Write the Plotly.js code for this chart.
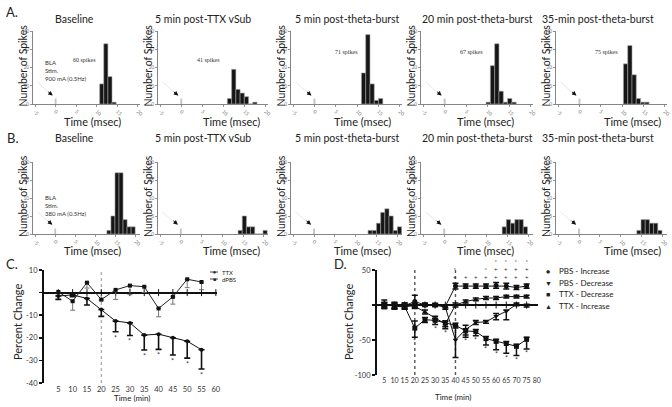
<!DOCTYPE html>
<html><head><meta charset="utf-8">
<script src="https://cdn.plot.ly/plotly-3.0.1.min.js"></script>
<style>html,body{margin:0;padding:0;background:#fff}#chart{width:672px;height:407px}</style>
</head><body><div id="chart"></div>
<script>
// ---------------- DATA ----------------
const titlesRow = ["Baseline","5 min post-TTX vSub","5 min post-theta-burst","20 min post-theta-burst","35-min post-theta-burst"];
// Row A histograms (bin centre in ms, spike counts)
const timesA1 = [11.2,12.2,13.2,14.2];                  const countsA1 = [11,33,15,1];
const timesA2 = [11.4,12.4,13.4,14.4,15.4,16.4,17.4];   const countsA2 = [3,19,8,6,4,0,1];
const timesA3 = [11.5,12.5,13.5,14.5,15.5];             const countsA3 = [17,38,11,2,3];
const timesA4 = [10.1,11.1,12.1,13.1,14.1,15.1,16.1];   const countsA4 = [1,21,33,7,1,3,1];
const timesA5 = [10.8,11.8,12.8,13.8,14.8,15.8];        const countsA5 = [22,32,16,3,1,1];
// Row B histograms
const timesB1 = [13.3,14.3,15.3,16.3,17.3,18.3,19.3];   const countsB1 = [1,5,17,17,4,2,2];
const timesB2 = [14.3,15.3,16.3,17.3,18.3,19.3,20.3];   const countsB2 = [1,5,2,2,0,0,1];
const timesB3 = [13.4,14.4,15.4,16.4,17.4,18.4,19.4,20.4]; const countsB3 = [1,1,3,6,7,5,1,2];
const timesB4 = [14.2,15.2,16.2,17.2,18.2,19.2];        const countsB4 = [2,4,3,4,4,2];
const timesB5 = [14.3,15.3,16.3,17.3,18.3,19.3];        const countsB5 = [1,4,4,3,3,1];
const stimTime = [0];
const stimCountA = [3];
const stimCountB = [1.5];
const spikeLabelsA = ["60 spikes","41 spikes","71 spikes","67 spikes","75 spikes"];
const spikeLabelPosA = [[7.1,24],[6.4,24],[7.6,28.7],[6.3,28.7],[6.4,28.7]];
const stimTextA = "BLA<br>Stim.<br>900 mA (0.5Hz)";
const stimTextB = "BLA<br>Stim.<br>380 mA (0.5Hz)";
const histXTicks = [-5,0,5,10,15,20];
const histYTicksA = [0,10,20,30,40];
const histYTicksB = [0,5,10,15,20];

// Panel C
const timeC  = [5,10,15,20,25,30,35,40,45,50,55];
const ttxC   = [-1.5,-1,-2.6,-7.5,-12.6,-13.4,-18.8,-18.4,-20,-21.5,-25.3];
const ttxErrC= [1.5,0.8,2.9,3,4.7,5.6,6.6,6.7,7.6,7.5,8.5];
const dpbsC  = [0.3,-3.8,4.4,-3.1,1.2,3.1,2.6,-7,-1.9,5.9,4.7];
const dpbsErrC=[1.5,4,2.4,0.5,4.2,4,2.6,3.7,3.2,3.7,3.4];
const sigC   = [25,30,35,40,45,50,55];
const xTicksC = [5,10,15,20,25,30,35,40,45,50,55,60];
const yTicksC = [10,0,-10,-20,-30,-40];

// Panel D
const timeD = [5,10,15,20,25,30,35,40,45,50,55,60,65,70,75];
const pbsInc      = [1,-1,-1,5,0,0,-2,27,27,27,27,28,27,25,27];
const pbsIncErr   = [6,5,4,9,2,2,2,4,3,3,3,4,4,3,3];
const pbsDec      = [0,-2,-3,0,1,0,-3,-50,-35,-25,-24,-16,-9,1,-1];
const pbsDecErrUp = [3,3,3,2,2,2,3,20,6,3,2,4,2,2,2];
const pbsDecErrDn = [3,3,3,2,2,2,3,25,8,3,2,5,12,2,2];
const ttxDec      = [0,-1,-2,-33,-21,-22,-26,-29,-37,-38,-48,-52,-55,-59,-49];
const ttxDecErrUp = [4,4,3,10,3,3,3,3,3,3,3,3,3,3,3];
const ttxDecErrDn = [5,4,4,13,4,6,8,4,9,6,9,12,14,13,14];
const ttxInc      = [0,-1,0,-2,-10,-19,-27,0,5,8,10,10,12,12,12];
const ttxIncErr   = [3,3,3,3,3,3,4,3,2,2,2,2,2,2,2];
const sigBelowD = [20,30,35,45,50,55,60,65,70,75];
const sigStarTopD = [40,55,60,65,70,75];
const sigPlusD  = [40,45,50,55,60,65,70,75];
const sigPlus2D = [60,65,70,75];
const legendD = ["PBS - Increase","PBS - Decrease","TTX - Decrease","TTX - Increase"];
const xTicksD = [5,10,15,20,25,30,35,40,45,50,55,60,65,70,75,80];
const yTicksD = [50,0,-50,-100];

// ---------------- LAYOUT HELPERS ----------------
const W=672,H=407;
const px=v=>v/W, py=v=>1-v/H;
const FONT='Lato, "Open Sans", sans-serif';
const TXT='#222';
const histXDom=[[33,140],[158,268],[291,402],[421,533],[556,667]];
const rowYDom={A:[31,104],B:[162,234]};
const titleX=[74,203,347,477,598];
const timeTitleX=[92,231,362,485,632];

const histTimes=[timesA1,timesA2,timesA3,timesA4,timesA5,timesB1,timesB2,timesB3,timesB4,timesB5];
const histCounts=[countsA1,countsA2,countsA3,countsA4,countsA5,countsB1,countsB2,countsB3,countsB4,countsB5];

const traces=[]; const annotations=[]; const shapes=[];
const layout={width:W,height:H,margin:{l:0,r:0,t:0,b:0},paper_bgcolor:'#fff',plot_bgcolor:'rgba(0,0,0,0)',
  showlegend:false,barmode:'overlay',font:{family:FONT,color:TXT},annotations,shapes};
const sfx=n=>n===1?'':String(n);

function addText(text,x,y,size,opts){annotations.push(Object.assign({text,x:px(x),y:py(y),xref:'paper',yref:'paper',showarrow:false,font:{size,family:FONT,color:TXT},xanchor:'center',yanchor:'middle'},opts||{}));}

for(let i=0;i<10;i++){
  const n=i+1, row=i<5?'A':'B', col=i%5;
  const xa='x'+sfx(n), ya='y'+sfx(n);
  const yd=rowYDom[row];
  const yMax=row==='A'?40:20;
  const xMax=row==='A'?20.5:21;
  layout['xaxis'+sfx(n)]={domain:[px(histXDom[col][0]),px(histXDom[col][1])],range:[-5.5,xMax],anchor:ya,
    tickvals:histXTicks,ticktext:histXTicks.map(v=>String(v)),tickangle:45,tickfont:{size:5,color:'#777'},
    ticks:'outside',ticklen:2,tickwidth:0.7,tickcolor:'#666',showline:true,linecolor:'#666',linewidth:0.8,
    showgrid:false,zeroline:false,fixedrange:true};
  const yt=row==='A'?histYTicksA:histYTicksB;
  layout['yaxis'+sfx(n)]={domain:[py(yd[1]),py(yd[0])],range:[0,yMax],anchor:xa,
    tickvals:yt,ticktext:yt.map(String),tickfont:{size:5,color:'#777'},ticks:'outside',ticklen:2,tickwidth:0.7,tickcolor:'#666',
    showline:true,linecolor:'#666',linewidth:0.8,showgrid:false,zeroline:false,fixedrange:true};
  traces.push({type:'bar',x:histTimes[i],y:histCounts[i],width:1,xaxis:xa,yaxis:ya,
    marker:{color:'#161616',line:{color:'#a0a0a0',width:0.6}},hoverinfo:'skip'});
  traces.push({type:'bar',x:stimTime,y:row==='A'?stimCountA:stimCountB,width:0.45,xaxis:xa,yaxis:ya,
    marker:{color:'#c4c4c4',line:{width:0}},hoverinfo:'skip'});
  // titles
  addText(titlesRow[col],titleX[col],row==='A'?19:138,10.5);
  addText('Time (msec)',timeTitleX[col],row==='A'?121:250,11);
  addText('Number of Spikes',histXDom[col][0]-10,(yd[0]+yd[1])/2-2,10.5,{textangle:-90});
  // stimulus arrow: faint line + black head
  const tipY=row==='A'?4.6:2.6, tailY=row==='A'?13:6.5;
  annotations.push({xref:xa,yref:ya,axref:xa,ayref:ya,x:-0.9,y:tipY,ax:-4.8,ay:tailY,showarrow:true,arrowhead:0,arrowwidth:0.6,arrowcolor:'#d8d8d8',text:''});
  annotations.push({xref:xa,yref:ya,x:-0.7,y:tipY,ax:-6,ay:-5,showarrow:true,arrowhead:2,arrowsize:0.9,arrowwidth:1,arrowcolor:'#111',standoff:0,text:''});
  if(row==='A'){
    annotations.push({xref:xa,yref:ya,x:spikeLabelPosA[col][0],y:spikeLabelPosA[col][1],text:spikeLabelsA[col],showarrow:false,
      font:{size:6,family:'"Liberation Serif", serif',color:'#333'}});
  }
}
annotations.push({xref:'x',yref:'y',x:-3.1,y:26,text:stimTextA,showarrow:false,align:'left',xanchor:'left',yanchor:'top',font:{size:6,family:FONT,color:'#333'}});
annotations.push({xref:'x6',yref:'y6',x:-3.1,y:11.6,text:stimTextB,showarrow:false,align:'left',xanchor:'left',yanchor:'top',font:{size:6,family:FONT,color:'#333'}});

// panel letters
addText('A.',12,12,13);
addText('B.',12,138,13);
addText('C.',12,264,13);
addText('D.',340,264,13);

// ---------------- PANEL C ----------------
layout.xaxis11={domain:[px(44),px(217)],range:[0,60.4],anchor:'y11',tickvals:xTicksC,ticktext:xTicksC.map(String),tickangle:0,
  tickfont:{size:7.5,color:'#333'},ticks:'',showline:false,showgrid:false,zeroline:false,fixedrange:true};
layout.yaxis11={domain:[py(383),py(270)],range:[-40,10],anchor:'x11',tickvals:yTicksC,ticktext:yTicksC.map(v=>v===0?'':String(v)),
  tickfont:{size:7.5,color:'#333'},ticks:'outside',ticklen:3,tickwidth:1.5,tickcolor:'#111',showline:true,linewidth:2,linecolor:'#111',
  showgrid:false,zeroline:true,zerolinewidth:2,zerolinecolor:'#111',fixedrange:true};
traces.push({x:xTicksC,y:xTicksC.map(()=>0),xaxis:'x11',yaxis:'y11',mode:'markers',marker:{symbol:'line-ns',size:5,line:{width:1,color:'#111'}},hoverinfo:'skip',cliponaxis:false});
traces.push({x:timeC,y:dpbsC,xaxis:'x11',yaxis:'y11',mode:'lines+markers',line:{color:'#222',width:1},
  marker:{symbol:'square',size:4,color:'#111'},error_y:{type:'data',symmetric:false,array:timeC.map(()=>0),arrayminus:dpbsErrC,color:'#666',thickness:0.9,width:2.5},hoverinfo:'skip'});
traces.push({x:timeC,y:ttxC,xaxis:'x11',yaxis:'y11',mode:'lines+markers',line:{color:'#111',width:1},
  marker:{symbol:'circle',size:4,color:'#111'},error_y:{type:'data',symmetric:false,array:timeC.map(()=>0),arrayminus:ttxErrC,color:'#111',thickness:1.6,width:3},hoverinfo:'skip'});
shapes.push({type:'line',xref:'x11',yref:'y11',x0:20,x1:20,y0:-40,y1:10,line:{color:'#777',width:0.8,dash:'dot'},layer:'below'});
sigC.forEach(t=>{const k=timeC.indexOf(t);annotations.push({xref:'x11',yref:'y11',x:t,y:ttxC[k]-ttxErrC[k]-2.6,text:'*',showarrow:false,font:{size:7,color:'#333',family:FONT}});});
addText('Percent Change',17,322,11,{textangle:-90});
addText('Time (min)',132,398,8);
addText('●',214,272,5,{});
addText('TTX',220,272,6,{xanchor:'left'});
addText('■',214,279,5,{});
addText('dPBS',220,279,6,{xanchor:'left'});
shapes.push({type:'line',xref:'paper',yref:'paper',x0:px(210),x1:px(218),y0:py(272),y1:py(272),line:{color:'#111',width:0.8}});
shapes.push({type:'line',xref:'paper',yref:'paper',x0:px(210),x1:px(218),y0:py(279),y1:py(279),line:{color:'#111',width:0.8}});

// ---------------- PANEL D ----------------
layout.xaxis12={domain:[px(377),px(538)],range:[1.4,80.6],anchor:'y12',tickvals:xTicksD,ticktext:xTicksD.map(String),tickangle:0,
  tickfont:{size:7,color:'#333'},ticks:'',showline:false,showgrid:false,zeroline:false,fixedrange:true};
layout.yaxis12={domain:[py(375),py(270)],range:[-100,50],anchor:'x12',tickvals:yTicksD,ticktext:yTicksD.map(v=>v===0?'':String(v)),
  tickfont:{size:7.5,color:'#333'},ticks:'outside',ticklen:3,tickwidth:1.5,tickcolor:'#111',showline:true,linewidth:2,linecolor:'#111',
  showgrid:false,zeroline:true,zerolinewidth:2,zerolinecolor:'#111',fixedrange:true};
shapes.push({type:'line',xref:'x12',yref:'y12',x0:20,x1:20,y0:-100,y1:50,line:{color:'#555',width:1.4,dash:'dot'},layer:'below'});
shapes.push({type:'line',xref:'x12',yref:'y12',x0:40,x1:40,y0:-100,y1:50,line:{color:'#555',width:1.4,dash:'dot'},layer:'below'});
traces.push({x:xTicksD.slice(0,-1),y:xTicksD.slice(0,-1).map(()=>0),xaxis:'x12',yaxis:'y12',mode:'markers',marker:{symbol:'line-ns',size:5,line:{width:1,color:'#111'}},hoverinfo:'skip'});
const dSeries=[
  {y:pbsInc,up:pbsIncErr,dn:pbsIncErr,sym:'circle'},
  {y:pbsDec,up:pbsDecErrUp,dn:pbsDecErrDn,sym:'triangle-down'},
  {y:ttxDec,up:ttxDecErrUp,dn:ttxDecErrDn,sym:'square'},
  {y:ttxInc,up:ttxIncErr,dn:ttxIncErr,sym:'triangle-up'}];
dSeries.forEach(s=>traces.push({x:timeD,y:s.y,xaxis:'x12',yaxis:'y12',mode:'lines+markers',line:{color:'#111',width:1},
  marker:{symbol:s.sym,size:5,color:'#111'},error_y:{type:'data',symmetric:false,array:s.up,arrayminus:s.dn,color:'#111',thickness:1.5,width:3},hoverinfo:'skip'}));
sigBelowD.forEach(t=>{const k=timeD.indexOf(t);annotations.push({xref:'x12',yref:'y12',x:t,y:ttxDec[k]-ttxDecErrDn[k]-6,text:'*',showarrow:false,font:{size:7,color:'#333',family:FONT}});});
// stacked significance marks above the curves (one text block per time point)
sigPlusD.forEach(t=>{
  const lines=[];
  if(sigStarTopD.includes(t)) lines.push('*');
  lines.push('+');
  if(sigPlus2D.includes(t)) lines.push('+');
  annotations.push({xref:'x12',yref:'y12',x:t,y:31,yanchor:'bottom',text:lines.join('<br>'),showarrow:false,
    font:{size:6,color:'#333',family:FONT}});
});
addText('Percent Change',348,322,11,{textangle:-90});
addText('Time (min)',453,397,8);
const legSym=['●','▼','■','▲'];
legendD.forEach((t,i)=>{addText(legSym[i],548,271+i*11.7,7);addText(t,557,271+i*11.7,8,{xanchor:'left'});});

Plotly.newPlot('chart',traces,layout,{displayModeBar:false,staticPlot:true});
</script></body></html>
